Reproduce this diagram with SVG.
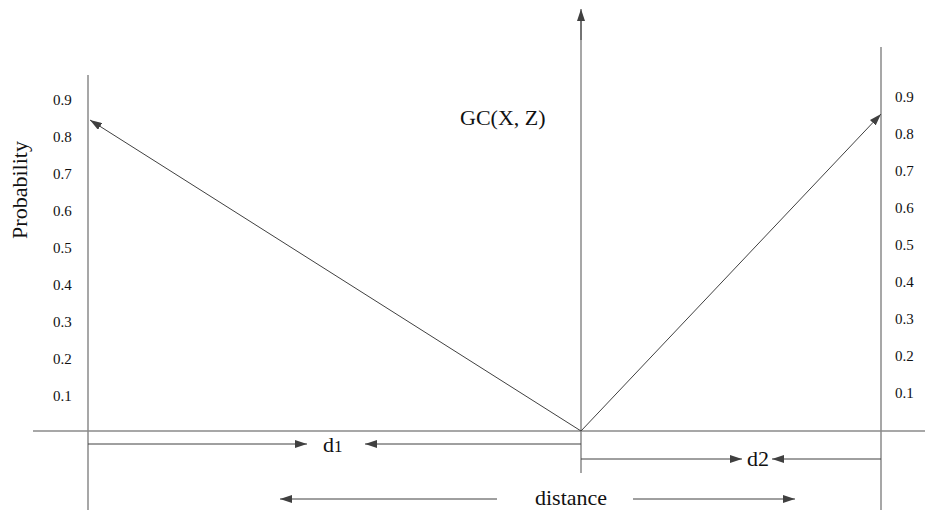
<svg xmlns="http://www.w3.org/2000/svg" width="925" height="515" viewBox="0 0 925 515">
<defs>
<marker id="ah" viewBox="0 0 12 8" refX="12" refY="4" markerWidth="12" markerHeight="8" markerUnits="userSpaceOnUse" orient="auto">
<path d="M0,0 L12,4 L0,8 Z" fill="#404040"/>
</marker>
</defs>
<style>
.axis{stroke:#8a8a8a;stroke-width:1.5;fill:none}
.arr{stroke:#404040;stroke-width:1;fill:none;marker-end:url(#ah)}
.tick{font-size:15px;fill:#111}
.lbl{font-size:22px;fill:#111}
</style>
<rect width="925" height="515" fill="#ffffff"/>
<g id="axes">
<line class="axis" x1="33" y1="431" x2="925" y2="431"/>
<line class="axis" x1="88" y1="75" x2="88" y2="510"/>
<line class="axis" x1="881" y1="47" x2="881" y2="510"/>
<line class="axis" x1="581" y1="20" x2="581" y2="473"/>
</g>
<g id="connectors">
<line class="arr" x1="581" y1="40" x2="581" y2="9"/>
<line class="arr" x1="581" y1="431" x2="90" y2="120"/>
<line class="arr" x1="581" y1="431" x2="881" y2="114"/>
<line class="arr" x1="88" y1="444" x2="307" y2="444"/>
<line class="arr" x1="581" y1="444" x2="365" y2="444"/>
<line class="arr" x1="581" y1="459" x2="742" y2="459"/>
<line class="arr" x1="881" y1="459" x2="772" y2="459"/>
<line class="arr" x1="497" y1="499" x2="280" y2="499"/>
<line class="arr" x1="633" y1="499" x2="795" y2="499"/>
</g>
<g font-family="Liberation Serif, Times New Roman, serif">
<g id="left-ticks" class="tick">
<text x="53" y="105">0.9</text>
<text x="53" y="142">0.8</text>
<text x="53" y="179">0.7</text>
<text x="53" y="216">0.6</text>
<text x="53" y="253">0.5</text>
<text x="53" y="290">0.4</text>
<text x="53" y="327">0.3</text>
<text x="53" y="364">0.2</text>
<text x="53" y="401">0.1</text>
</g>
<g id="right-ticks" class="tick">
<text x="895" y="102">0.9</text>
<text x="895" y="139">0.8</text>
<text x="895" y="176">0.7</text>
<text x="895" y="213">0.6</text>
<text x="895" y="250">0.5</text>
<text x="895" y="287">0.4</text>
<text x="895" y="324">0.3</text>
<text x="895" y="361">0.2</text>
<text x="895" y="398">0.1</text>
</g>
<g id="label-probability">
<text class="lbl" transform="translate(27,190) rotate(-90)" text-anchor="middle" font-size="23">Probability</text>
</g>
<g id="label-gc">
<text class="lbl" x="460" y="125">GC(X, Z)</text>
</g>
<g id="label-d1">
<text class="lbl" x="323" y="452">d<tspan font-size="17">1</tspan></text>
</g>
<g id="label-d2">
<text class="lbl" x="747" y="466">d2</text>
</g>
<g id="label-distance">
<text class="lbl" x="535" y="505">distance</text>
</g>
</g>
</svg>
